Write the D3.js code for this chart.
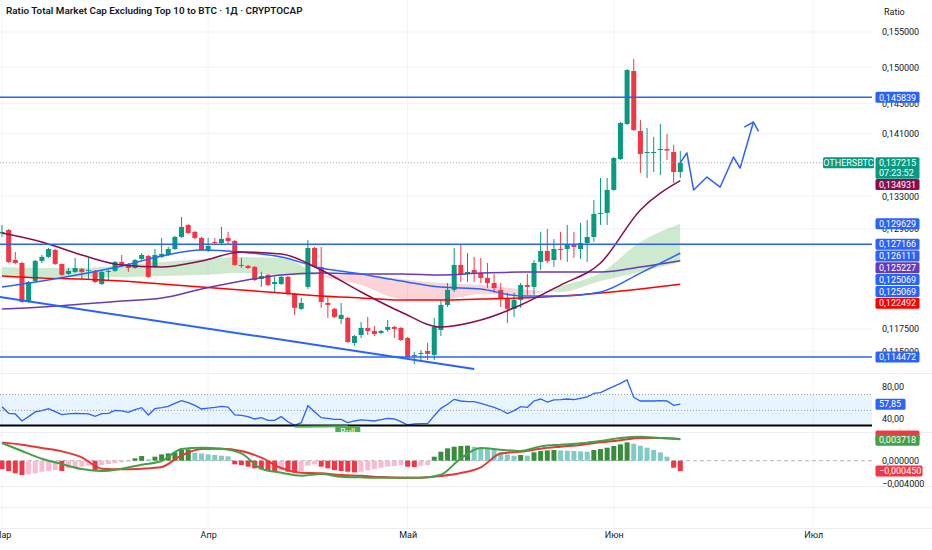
<!DOCTYPE html>
<html lang="ru">
<head>
<meta charset="UTF-8">
<title>OTHERSBTC</title>
<script src="https://cdn.jsdelivr.net/npm/d3@7"></script>
<style>
  body { margin: 0; background: #fff; }
  svg { display: block; font-family: Roboto, "Noto Sans", sans-serif; }
</style>
</head>
<body>
<script>
// ---- data (daily candles from 1 March) ----
const firstDay = Date.UTC(2025, 2, 1);
const openP = [
  0.12845, 0.12886, 0.12531, 0.12496, 0.12050, 0.12288, 0.12520, 0.12567, 0.12649, 0.12485,
  0.12369, 0.12392, 0.12427, 0.12404, 0.12404, 0.12253, 0.12392, 0.12404, 0.12508, 0.12473,
  0.12438, 0.12543, 0.12578, 0.12450, 0.12567, 0.12590, 0.12660, 0.12803, 0.12947, 0.12863,
  0.12791, 0.12649, 0.12743, 0.12731, 0.12791, 0.12755, 0.12473, 0.12462, 0.12450, 0.12311,
  0.12358, 0.12253, 0.12253, 0.12335, 0.12140, 0.11972, 0.12220, 0.12672, 0.12450, 0.12039,
  0.11972, 0.11861, 0.11872, 0.11597, 0.11684, 0.11761, 0.11728, 0.11706, 0.11739, 0.11772,
  0.11761, 0.11651, 0.11458, 0.11480, 0.11511, 0.11469, 0.11739, 0.12016, 0.12186, 0.12473,
  0.12369, 0.12415, 0.12381, 0.12323, 0.12265, 0.12186, 0.12084, 0.11972, 0.12073, 0.12242,
  0.12220, 0.12508, 0.12637, 0.12531, 0.12660, 0.12660, 0.12708, 0.12660, 0.12731, 0.12803,
  0.13081, 0.13093, 0.13377, 0.13769, 0.14226, 0.14946, 0.14133, 0.13846, 0.13846, 0.13885,
  0.13898, 0.13859, 0.13603
];
const highP = [
  0.12947, 0.12898, 0.12625, 0.12508, 0.12288, 0.12531, 0.12590, 0.12672, 0.12660, 0.12485,
  0.12438, 0.12555, 0.12438, 0.12555, 0.12415, 0.12404, 0.12415, 0.12520, 0.12590, 0.12496,
  0.12543, 0.12613, 0.12590, 0.12660, 0.12790, 0.12684, 0.12815, 0.13044, 0.12959, 0.12875,
  0.12803, 0.12791, 0.12791, 0.12923, 0.12863, 0.12767, 0.12555, 0.12473, 0.12462, 0.12392,
  0.12369, 0.12335, 0.12346, 0.12346, 0.12152, 0.12095, 0.12767, 0.12684, 0.12684, 0.12106,
  0.11983, 0.12039, 0.11883, 0.11684, 0.11827, 0.11883, 0.11783, 0.11739, 0.11849, 0.11783,
  0.11772, 0.11662, 0.11501, 0.11522, 0.11597, 0.11872, 0.12073, 0.12265, 0.12672, 0.12708,
  0.12613, 0.12567, 0.12555, 0.12496, 0.12369, 0.12265, 0.12152, 0.12152, 0.12265, 0.12369,
  0.12531, 0.12863, 0.12898, 0.12779, 0.12863, 0.12947, 0.12863, 0.12971, 0.13007, 0.13252,
  0.13527, 0.13527, 0.13795, 0.14252, 0.14974, 0.15115, 0.14279, 0.14173, 0.14055, 0.14226,
  0.14094, 0.13950, 0.13872
];
const lowP = [
  0.12804, 0.12496, 0.12485, 0.12039, 0.12039, 0.12276, 0.12496, 0.12555, 0.12473, 0.12346,
  0.12358, 0.12381, 0.12300, 0.12300, 0.12265, 0.12242, 0.12300, 0.12392, 0.12450, 0.12392,
  0.12427, 0.12531, 0.12323, 0.12438, 0.12555, 0.12578, 0.12649, 0.12791, 0.12839, 0.12779,
  0.12637, 0.12625, 0.12708, 0.12719, 0.12708, 0.12462, 0.12438, 0.12427, 0.12288, 0.12220,
  0.12231, 0.12152, 0.12242, 0.12129, 0.11905, 0.11960, 0.12197, 0.12438, 0.11983, 0.11872,
  0.11872, 0.11805, 0.11597, 0.11565, 0.11651, 0.11684, 0.11673, 0.11695, 0.11717, 0.11651,
  0.11619, 0.11437, 0.11373, 0.11415, 0.11415, 0.11415, 0.11673, 0.11994, 0.12163, 0.12276,
  0.12276, 0.12276, 0.12265, 0.12208, 0.12152, 0.11994, 0.11816, 0.11883, 0.11983, 0.12129,
  0.12129, 0.12415, 0.12496, 0.12450, 0.12531, 0.12508, 0.12555, 0.12543, 0.12508, 0.12743,
  0.12947, 0.12947, 0.13364, 0.13756, 0.14212, 0.14133, 0.13590, 0.13527, 0.13603, 0.13565,
  0.13756, 0.13464, 0.13527
];
const closeP = [
  0.12863, 0.12508, 0.12496, 0.12050, 0.12276, 0.12520, 0.12567, 0.12660, 0.12485, 0.12358,
  0.12404, 0.12438, 0.12392, 0.12415, 0.12276, 0.12392, 0.12404, 0.12508, 0.12473, 0.12438,
  0.12531, 0.12590, 0.12335, 0.12590, 0.12602, 0.12660, 0.12803, 0.12923, 0.12851, 0.12791,
  0.12649, 0.12696, 0.12731, 0.12779, 0.12755, 0.12473, 0.12462, 0.12438, 0.12300, 0.12346,
  0.12242, 0.12276, 0.12335, 0.12140, 0.11983, 0.12039, 0.12672, 0.12450, 0.12050, 0.12016,
  0.11883, 0.11905, 0.11608, 0.11673, 0.11761, 0.11728, 0.11695, 0.11728, 0.11772, 0.11750,
  0.11630, 0.11448, 0.11469, 0.11490, 0.11480, 0.11772, 0.12016, 0.12186, 0.12473, 0.12369,
  0.12392, 0.12381, 0.12323, 0.12265, 0.12208, 0.12084, 0.11972, 0.12073, 0.12242, 0.12220,
  0.12496, 0.12637, 0.12520, 0.12660, 0.12649, 0.12708, 0.12684, 0.12731, 0.12803, 0.13081,
  0.13093, 0.13377, 0.13782, 0.14239, 0.14960, 0.14146, 0.13833, 0.13859, 0.13859, 0.13898,
  0.13878, 0.13603, 0.137215
];

// moving averages and cloud, sampled every 6 candles
const maIdx = [0, 6, 12, 18, 24, 30, 36, 42, 48, 54, 60, 66, 72, 78, 84, 90, 96, 102];
const maFast = [0.12850, 0.12743, 0.12589, 0.12472, 0.12449, 0.12519, 0.12624, 0.12601, 0.12414,
  0.12162, 0.11937, 0.11771, 0.11848, 0.12015, 0.12241, 0.12495, 0.13129, 0.134931];
const maBlue = [0.12219, 0.12287, 0.12368, 0.12460, 0.12577, 0.12648, 0.12624, 0.12566, 0.12437,
  0.12368, 0.12287, 0.12219, 0.12196, 0.12117, 0.12117, 0.12162, 0.12379, 0.126111];
const maPurple = [0.11970, 0.11993, 0.12026, 0.12060, 0.12094, 0.12196, 0.12287, 0.12356, 0.12379,
  0.12368, 0.12368, 0.12356, 0.12379, 0.12391, 0.12391, 0.12391, 0.12449, 0.125227];
const maRed = [0.12345, 0.12322, 0.12310, 0.12287, 0.12253, 0.12219, 0.12185, 0.12151, 0.12117,
  0.12094, 0.12071, 0.12071, 0.12083, 0.12094, 0.12117, 0.12151, 0.12196, 0.122492];
const cloudA = [0.12449, 0.12437, 0.12437, 0.12472, 0.12507, 0.12542, 0.12565, 0.12553, 0.12345,
  0.12242, 0.12083, 0.12071, 0.12139, 0.12117, 0.12231, 0.12379, 0.12742, 0.129629];
const cloudB = [0.12345, 0.12333, 0.12333, 0.12333, 0.12345, 0.12357, 0.12380, 0.12357, 0.12357,
  0.12357, 0.12311, 0.12265, 0.12242, 0.12196, 0.12162, 0.12287, 0.12391, 0.125069];
const extraPlotLast = [0.125069];

// drawings
const levels = [0.145839, 0.127166, 0.114472];
const trendIdx = [-1, 71];
const trendP = [0.12113, 0.11319];
const pathIdx = [102, 103, 104, 106, 108, 110, 111, 113];
const pathP = [0.137215, 0.13846, 0.13376, 0.13539, 0.13413, 0.13794, 0.13653, 0.14252];

// RSI
const rsi = [
  54.7, 46.3, 45.5, 36.6, 42.1, 48.0, 49.7, 52.2, 48.4, 44.6,
  45.5, 46.3, 45.9, 45.5, 42.5, 45.9, 46.3, 50.1, 49.3, 47.6,
  51.0, 53.5, 44.2, 52.2, 53.5, 55.2, 59.0, 62.3, 59.8, 56.4,
  51.8, 53.0, 53.9, 55.2, 54.3, 44.2, 43.8, 42.1, 39.1, 40.8,
  37.4, 37.4, 42.1, 35.7, 31.1, 34.5, 56.0, 48.4, 40.8, 40.0,
  38.7, 38.7, 34.5, 36.6, 37.9, 37.4, 36.6, 38.3, 40.0, 39.1,
  35.7, 31.5, 32.8, 33.2, 33.2, 43.3, 52.6, 57.7, 64.0, 61.9,
  61.1, 61.1, 59.0, 56.4, 53.9, 50.5, 45.9, 49.7, 54.7, 53.9,
  61.9, 64.4, 60.6, 63.2, 63.6, 64.4, 63.6, 65.3, 67.0, 71.6,
  72.5, 76.7, 80.5, 84.3, 88.5, 66.5, 61.9, 61.9, 61.9, 62.3,
  61.9, 56.4, 57.85
];
const rsiBand = [30, 70];
const rsiDotted = [70, 50];
const rsiMark = 31;
const rsiTicks = [80, 40];
const bullIdx = [44, 52];
const bullRsi = [31.1, 31.8];

// MACD
const hist = [
  -0.00144, -0.00178, -0.00218, -0.00247, -0.00236, -0.00218, -0.00190, -0.00178, -0.00161, -0.00178,
  -0.00132, -0.00121, -0.00103, -0.00086, -0.00178, -0.00075, -0.00057, -0.00046, -0.00029, -0.00017,
  0.00040, 0.00080, 0.00023, 0.00069, 0.00109, 0.00126, 0.00144, 0.00184, 0.00195, 0.00138,
  0.00126, 0.00109, 0.00098, 0.00086, 0.00075, -0.00063, -0.00075, -0.00103, -0.00132, -0.00149,
  -0.00178, -0.00190, -0.00167, -0.00190, -0.00207, -0.00178, -0.00086, -0.00063, -0.00103, -0.00132,
  -0.00161, -0.00178, -0.00190, -0.00201, -0.00190, -0.00167, -0.00144, -0.00121, -0.00103, -0.00092,
  -0.00075, -0.00103, -0.00109, -0.00086, -0.00075, 0.00069, 0.00155, 0.00213, 0.00241, 0.00253,
  0.00259, 0.00241, 0.00224, 0.00213, 0.00184, 0.00144, 0.00109, 0.00086, 0.00098, 0.00086,
  0.00144, 0.00167, 0.00178, 0.00184, 0.00178, 0.00172, 0.00167, 0.00161, 0.00155, 0.00184,
  0.00201, 0.00224, 0.00253, 0.00282, 0.00316, 0.00293, 0.00259, 0.00224, 0.00184, 0.00144,
  0.00069, -0.00121, -0.00178
];
const macdIdx = d3.range(0, 103, 3);
const macdLine = [0.00305, 0.00167, 0.00034, -0.00057, -0.00144, -0.00178, -0.00138, -0.00069, -0.00006,
  0.00201, 0.00224, 0.00207, 0.00126, -0.00138, -0.00207, -0.00259, -0.00230, -0.00276, -0.00287,
  -0.00293, -0.00293, -0.00293, -0.00241, 0.00040, 0.00218, 0.00190, 0.00167, 0.00247, 0.00276,
  0.00299, 0.00339, 0.00391, 0.00414, 0.00391, 0.003718];
const signalLine = [0.00316, 0.00276, 0.00218, 0.00161, 0.00057, -0.00138, -0.00149, -0.00138, -0.00109,
  0.00092, 0.00201, 0.00207, 0.00167, 0.00052, -0.00126, -0.00207, -0.00218, -0.00247, -0.00259,
  -0.00282, -0.00293, -0.00293, -0.00264, -0.00213, -0.00115, 0.00126, 0.00155, 0.00207, 0.00241,
  0.00270, 0.00316, 0.00351, 0.00391, 0.00391, 0.00374];
const histLabel = -0.000450;
const macdTicks = [0, -0.004];

// 0.137 and 0.125 sit fully under the value tags, so they are left out
const priceTicks = [0.155, 0.150, 0.145, 0.141, 0.133, 0.129, 0.1175, 0.115];
const monthNames = ["Янв", "Фев", "Мар", "Апр", "Май", "Июн", "Июл", "Авг", "Сен", "Окт", "Ноя", "Дек"];
const title = "Ratio Total Market Cap Excluding Top 10 to BTC · 1Д · CRYPTOCAP";
const symbol = "OTHERSBTC";
const countdown = "07:23:52";

// ---- layout ----
const W = 932, H = 550, plotR = 872;
const main = { top: 0, bottom: 373 }, rsiPane = { top: 373, bottom: 432 }, macdPane = { top: 432, bottom: 486 };
const up = "#089981", down = "#f23645", blue = "#2962ff";

const x = d3.scaleUtc()
  .domain([firstDay, d3.utcDay.offset(new Date(firstDay), 122)])
  .range([2, 2 + 122 * 6.65]);
const xi = i => x(d3.utcDay.offset(new Date(firstDay), i));
const y = d3.scaleLog().domain([0.11277, 0.15970]).range([main.bottom, main.top]);
const yR = d3.scaleLinear().domain([0, 100]).range([449.9, 370.9]);
const yM = d3.scaleLinear().domain([0, 0.001]).range([460.7, 454.9]);

const fmtP = v => d3.format(".6f")(v).replace(".", ",");
const fmtR = v => d3.format(".2f")(v).replace(".", ",");

const svg = d3.select("body").append("svg").attr("width", W).attr("height", H);
const defs = svg.append("defs");
function addClip(id, p) {
  defs.append("clipPath").attr("id", id).append("rect")
    .attr("x", 0).attr("y", p.top).attr("width", plotR).attr("height", p.bottom - p.top);
}
addClip("cMain", main); addClip("cRsi", rsiPane); addClip("cMacd", macdPane);

// grid
const months = d3.utcMonth.range(new Date(firstDay), d3.utcDay.offset(new Date(firstDay), 123));
svg.append("g").selectAll("line").data(months).join("line")
  .attr("x1", d => x(d)).attr("x2", d => x(d)).attr("y1", 0).attr("y2", 528)
  .attr("stroke", "#f0f3fa");
svg.append("g").selectAll("line").data(priceTicks).join("line")
  .attr("x1", 0).attr("x2", plotR).attr("y1", d => y(d)).attr("y2", d => y(d))
  .attr("stroke", "#f0f3fa");
[main.bottom, rsiPane.bottom, macdPane.bottom, 507, 528].forEach(v =>
  svg.append("line").attr("x1", 0).attr("x2", W).attr("y1", v + 0.5).attr("y2", v + 0.5).attr("stroke", "#eceef2"));

// ---- main pane ----
const gMain = svg.append("g").attr("clip-path", "url(#cMain)");
const mx = (d, k) => xi(maIdx[k]);

// cloud: green where A above B, red where below
const clipAbove = d3.area().x(mx).y0(0).y1((d, k) => y(cloudB[k])).curve(d3.curveMonotoneX);
const clipBelow = d3.area().x(mx).y0(main.bottom).y1((d, k) => y(cloudB[k])).curve(d3.curveMonotoneX);
defs.append("clipPath").attr("id", "cAbove").append("path").attr("d", clipAbove(cloudB));
defs.append("clipPath").attr("id", "cBelow").append("path").attr("d", clipBelow(cloudB));
const band = d3.area().x(mx).y0((d, k) => y(cloudB[k])).y1((d, k) => y(cloudA[k])).curve(d3.curveMonotoneX);
gMain.append("path").attr("d", band(cloudA)).attr("clip-path", "url(#cAbove)")
  .attr("fill", "rgba(76,175,80,0.28)");
gMain.append("path").attr("d", band(cloudA)).attr("clip-path", "url(#cBelow)")
  .attr("fill", "rgba(242,54,69,0.22)");

// candles
const candles = gMain.append("g").selectAll("g").data(closeP).join("g");
candles.append("line")
  .attr("x1", (d, i) => xi(i)).attr("x2", (d, i) => xi(i))
  .attr("y1", (d, i) => y(highP[i])).attr("y2", (d, i) => y(lowP[i]))
  .attr("stroke", (d, i) => d >= openP[i] ? up : down).attr("stroke-width", 1);
candles.append("rect")
  .attr("x", (d, i) => xi(i) - 2.5).attr("width", 5)
  .attr("y", (d, i) => y(Math.max(d, openP[i])))
  .attr("height", (d, i) => Math.max(1, Math.abs(y(d) - y(openP[i]))))
  .attr("fill", (d, i) => d >= openP[i] ? up : down);

// moving averages
const maLine = d3.line().x(mx).y(d => y(d)).curve(d3.curveMonotoneX);
[[maRed, "#ff0000"], [maPurple, "#673ab7"], [maBlue, blue], [maFast, "#880e4f"]].forEach(([s, c]) =>
  gMain.append("path").attr("d", maLine(s)).attr("fill", "none").attr("stroke", c).attr("stroke-width", 1.5));

// drawings
gMain.append("g").selectAll("line").data(levels).join("line")
  .attr("x1", 0).attr("x2", plotR).attr("y1", d => y(d)).attr("y2", d => y(d))
  .attr("stroke", blue).attr("stroke-width", 1.5);
gMain.append("line")
  .attr("x1", xi(trendIdx[0])).attr("y1", y(trendP[0]))
  .attr("x2", xi(trendIdx[1])).attr("y2", y(trendP[1]))
  .attr("stroke", blue).attr("stroke-width", 2);
defs.append("marker").attr("id", "arrow").attr("markerUnits", "userSpaceOnUse")
  .attr("viewBox", "-10 -10 20 20").attr("markerWidth", 20).attr("markerHeight", 20)
  .attr("orient", "auto").append("path").attr("d", "M-7.5,-7.5L0,0L-7.5,7.5")
  .attr("fill", "none").attr("stroke", blue).attr("stroke-width", 1.5);
gMain.append("path")
  .attr("d", d3.line().x((d, k) => xi(pathIdx[k])).y(d => y(d))(pathP))
  .attr("fill", "none").attr("stroke", blue).attr("stroke-width", 1.5)
  .attr("stroke-linejoin", "round").attr("marker-end", "url(#arrow)");

// last price dotted line
const lastClose = closeP[closeP.length - 1];
gMain.append("line").attr("x1", 0).attr("x2", plotR).attr("y1", y(lastClose)).attr("y2", y(lastClose))
  .attr("stroke", "#9598a1").attr("stroke-dasharray", "1,2").attr("opacity", 0.8);

// ---- RSI pane ----
const gRsi = svg.append("g").attr("clip-path", "url(#cRsi)");
gRsi.append("rect").attr("x", 0).attr("width", plotR)
  .attr("y", yR(rsiBand[1])).attr("height", yR(rsiBand[0]) - yR(rsiBand[1]))
  .attr("fill", "rgba(33,150,243,0.1)");
gRsi.selectAll(".dl").data(rsiDotted).join("line")
  .attr("x1", 0).attr("x2", plotR).attr("y1", d => yR(d)).attr("y2", d => yR(d))
  .attr("stroke", "#9598a1").attr("stroke-dasharray", "1,2");
gRsi.append("path")
  .attr("d", d3.line().x((d, i) => xi(i)).y(d => yR(d))(rsi))
  .attr("fill", "none").attr("stroke", blue).attr("stroke-width", 1.3);
gRsi.append("line").attr("x1", 0).attr("x2", plotR).attr("y1", yR(rsiMark)).attr("y2", yR(rsiMark))
  .attr("stroke", "#000").attr("stroke-width", 2);
gRsi.append("line")
  .attr("x1", xi(bullIdx[0])).attr("y1", yR(bullRsi[0]) + 1.5)
  .attr("x2", xi(bullIdx[1])).attr("y2", yR(bullRsi[1]) + 1.5)
  .attr("stroke", "#4caf50").attr("stroke-width", 2);
gRsi.append("rect").attr("x", xi(bullIdx[1]) - 12.5).attr("y", yR(bullRsi[1]) + 1.5)
  .attr("width", 25).attr("height", 12).attr("rx", 2).attr("fill", "#4caf50");
gRsi.append("text").attr("x", xi(bullIdx[1])).attr("y", yR(bullRsi[1]) + 10)
  .attr("text-anchor", "middle").attr("font-size", 9).attr("fill", "#fff").text("Bull");

// ---- MACD pane ----
const gMacd = svg.append("g").attr("clip-path", "url(#cMacd)");
gMacd.append("line").attr("x1", 0).attr("x2", plotR).attr("y1", yM(0)).attr("y2", yM(0))
  .attr("stroke", "#b2b5be").attr("stroke-dasharray", "4,3");
gMacd.append("g").selectAll("rect").data(hist).join("rect")
  .attr("x", (d, i) => xi(i) - 2.5).attr("width", 5)
  .attr("y", d => Math.min(yM(d), yM(0))).attr("height", d => Math.abs(yM(d) - yM(0)))
  .attr("fill", (d, i) => {
    const prev = i > 0 ? hist[i - 1] : d;
    if (d >= 0) return d > prev ? "#388e3c" : "#80cbc4";
    return d < prev || i === 0 ? "#f23645" : "#f8bbd0";
  });
const macdPath = d3.line().x((d, k) => xi(macdIdx[k])).y(d => yM(d)).curve(d3.curveMonotoneX);
gMacd.append("path").attr("d", macdPath(signalLine)).attr("fill", "none").attr("stroke", "#e53935").attr("stroke-width", 2);
gMacd.append("path").attr("d", macdPath(macdLine)).attr("fill", "none").attr("stroke", "#43a047").attr("stroke-width", 2);

// ---- axes ----
const axisText = g => g.selectAll("text").attr("font-size", 9).attr("fill", "#131722")
  .attr("font-family", "Roboto, 'Noto Sans', sans-serif");
svg.append("g").attr("transform", `translate(${plotR},0)`)
  .call(d3.axisRight(y).tickValues(priceTicks).tickSize(0).tickPadding(10).tickFormat(fmtP))
  .call(g => g.select(".domain").remove()).call(axisText);
svg.append("g").attr("transform", `translate(${plotR},0)`)
  .call(d3.axisRight(yR).tickValues(rsiTicks).tickSize(0).tickPadding(10).tickFormat(fmtR))
  .call(g => g.select(".domain").remove()).call(axisText);
svg.append("g").attr("transform", `translate(${plotR},0)`)
  .call(d3.axisRight(yM).tickValues(macdTicks).tickSize(0).tickPadding(10).tickFormat(fmtP))
  .call(g => g.select(".domain").remove()).call(axisText);
svg.append("g").attr("transform", "translate(0,528)")
  .call(d3.axisBottom(x).tickValues(months).tickSize(0).tickPadding(4).tickFormat(d => monthNames[d.getUTCMonth()]))
  .call(g => g.select(".domain").remove()).call(axisText);

// ---- value labels on the price scale ----
function tag(cy, text, bg, w = 44) {
  svg.append("rect").attr("x", 875.5).attr("y", cy - 5.5).attr("width", w).attr("height", 11)
    .attr("rx", 1.5).attr("fill", bg);
  if (text) svg.append("text").attr("x", 879).attr("y", cy + 3.2).attr("font-size", 9).attr("fill", "#fff").text(text);
}
const priceLabels = [
  { v: levels[0], bg: blue },
  { v: lastClose, bg: up, rows: 2 },
  { v: maFast[maFast.length - 1], bg: "#880e4f" },
  { v: cloudA[cloudA.length - 1], bg: blue },
  { v: levels[1], bg: blue },
  { v: maBlue[maBlue.length - 1], bg: blue },
  { v: maPurple[maPurple.length - 1], bg: "#673ab7" },
  { v: cloudB[cloudB.length - 1], bg: blue },
  { v: extraPlotLast[0], bg: blue },
  { v: maRed[maRed.length - 1], bg: "#ff0000" },
  { v: levels[2], bg: blue }
].map(d => ({ ...d, cy: y(d.v) })).sort((a, b) => a.cy - b.cy);
let floor = -Infinity;
priceLabels.forEach(d => {
  d.cy = Math.max(d.cy, floor + 5.9);
  floor = d.cy + 5.9 + (d.rows === 2 ? 10 : 0);
});
priceLabels.forEach(d => {
  if (d.rows === 2) {
    svg.append("rect").attr("x", 875.5).attr("y", d.cy - 5.5).attr("width", 44).attr("height", 21.5)
      .attr("rx", 1.5).attr("fill", d.bg);
    svg.append("text").attr("x", 879).attr("y", d.cy + 3.2).attr("font-size", 9).attr("fill", "#fff").text(fmtP(d.v));
    svg.append("text").attr("x", 879).attr("y", d.cy + 13.2).attr("font-size", 9).attr("fill", "#fff").text(countdown);
    svg.append("rect").attr("x", 823).attr("y", d.cy - 5.5).attr("width", 51).attr("height", 11)
      .attr("rx", 1.5).attr("fill", d.bg);
    svg.append("text").attr("x", 848.5).attr("y", d.cy + 3.2).attr("text-anchor", "middle")
      .attr("font-size", 9).attr("fill", "#fff").text(symbol);
  } else {
    tag(d.cy, fmtP(d.v), d.bg);
  }
});
tag(yR(rsi[rsi.length - 1]), fmtR(rsi[rsi.length - 1]), blue, 30);
// signal tag sits under the MACD tag, only its edge shows
tag(yM(signalLine[signalLine.length - 1]) - 3, null, "#f23645");
tag(yM(macdLine[macdLine.length - 1]) + 1, fmtP(macdLine[macdLine.length - 1]), "#43a047");
tag(yM(hist[hist.length - 1]), fmtP(histLabel), "#f23645", 47);

// titles
svg.append("text").attr("x", 6).attr("y", 14).attr("font-size", 9.9).attr("font-weight", 600)
  .attr("fill", "#131722").text(title);
svg.append("text").attr("x", 884).attr("y", 15).attr("font-size", 9).attr("fill", "#131722").text("Ratio");
</script>
</body>
</html>
